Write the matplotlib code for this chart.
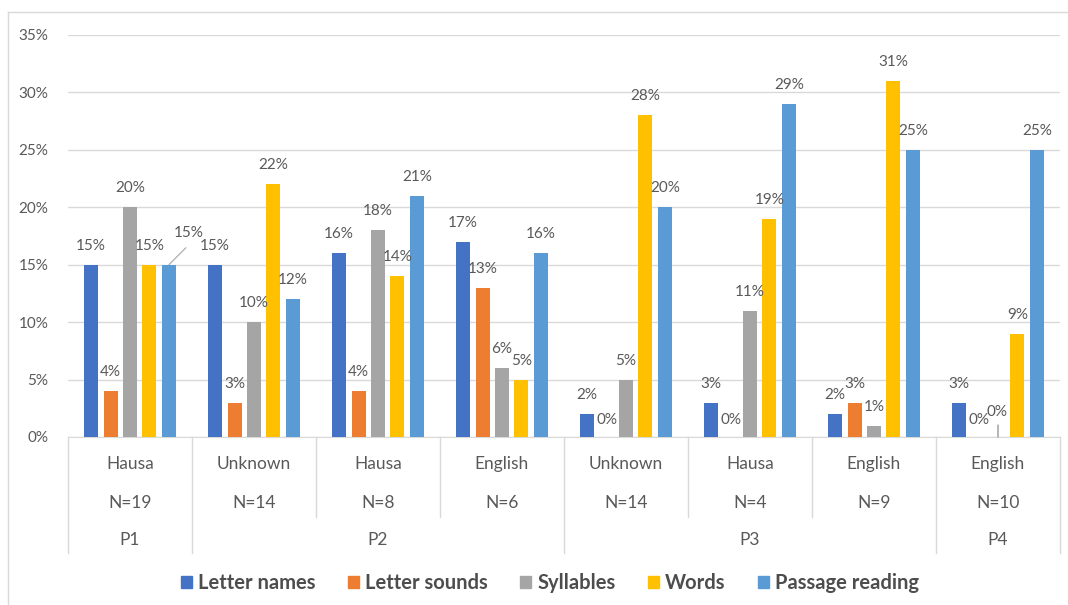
import matplotlib
matplotlib.use("Agg")
import matplotlib.pyplot as plt
import matplotlib.transforms as mtransforms
from matplotlib.patches import Rectangle
from matplotlib.lines import Line2D
import numpy as np

plt.rcParams['font.family'] = ['Lato', 'DejaVu Sans']

# ---- data ----
languages = ["Hausa", "Unknown", "Hausa", "English", "Unknown", "Hausa", "English", "English"]
sizes = ["N=19", "N=14", "N=8", "N=6", "N=14", "N=4", "N=9", "N=10"]
phases = ["P1", "P2", "P3", "P4"]
phase_spans = [(0, 0), (1, 3), (4, 6), (7, 7)]
series_names = ["Letter names", "Letter sounds", "Syllables", "Words", "Passage reading"]
letter_names = [15, 15, 16, 17, 2, 3, 2, 3]
letter_sounds = [4, 3, 4, 13, 0, 0, 3, 0]
syllables = [20, 10, 18, 6, 5, 11, 1, 0]
words = [15, 22, 14, 5, 28, 19, 31, 9]
passage_reading = [15, 12, 21, 16, 20, 29, 25, 25]
y_ticks = [0, 5, 10, 15, 20, 25, 30, 35]

series = [letter_names, letter_sounds, syllables, words, passage_reading]
colors = ["#4472C4", "#ED7D31", "#A5A5A5", "#FFC000", "#5B9BD5"]
text_col = "#595959"
grid_col = "#D9D9D9"

W, H = 1068, 605
fig = plt.figure(figsize=(W / 100, H / 100), dpi=100)
fig.patch.set_facecolor("white")

# axes placement in pixels
x0, x1 = 68, 1060
ytop, ybot = 35, 437
ax = fig.add_axes([x0 / W, (H - ybot) / H, (x1 - x0) / W, (ybot - ytop) / H])
ax.set_xlim(-0.5, len(languages) - 0.5)
ax.set_ylim(0, 35)

n = len(series)
step = 0.157
bw = 0.113
x = np.arange(len(languages))
for i, (vals, c) in enumerate(zip(series, colors)):
    pos = x + (i - (n - 1) / 2) * step
    ax.bar(pos, vals, width=bw, color=c, zorder=3, label=series_names[i])
    for j, (p, v) in enumerate(zip(pos, vals)):
        dx, dy = 0, 19
        leader = False
        if i == 4 and j == 0:
            dx, dy, leader = 20, 32, True
        if i == 2 and j == 7:
            dx, dy, leader = -1, 25, True
        if v == 0 and not leader:
            dy = 17
        ax.annotate(f"{v}%", xy=(p, v), xytext=(dx * 0.72, dy * 0.72),
                    textcoords="offset points", ha="center", va="center",
                    fontsize=11, color=text_col, zorder=4, annotation_clip=False)
        if leader:
            if i == 4:
                ax.annotate("", xy=(p, v), xycoords="data",
                            xytext=(17 * 0.72, 17 * 0.72), textcoords="offset points",
                            arrowprops=dict(arrowstyle="-", color="#A6A6A6", lw=0.8,
                                            shrinkA=0, shrinkB=0))
            else:
                ax.annotate("", xy=(p, v), xycoords="data",
                            xytext=(0, 12 * 0.72), textcoords="offset points",
                            arrowprops=dict(arrowstyle="-", color="#7F7F7F", lw=0.8,
                                            shrinkA=0, shrinkB=0))

ax.set_yticks(y_ticks)
ax.set_yticklabels([f"{t}%" for t in y_ticks], fontsize=11, color=text_col)
ax.tick_params(axis="y", length=0, pad=14)
ax.tick_params(axis="x", length=0, labelbottom=False)
ax.grid(axis="y", color=grid_col, lw=1, zorder=0)
for s in ["top", "right", "left"]:
    ax.spines[s].set_visible(False)
ax.spines["bottom"].set_color(grid_col)
ax.spines["bottom"].set_zorder(2)

# category table below axes
ph = ybot - ytop
def ay(ypix):
    return (ybot - ypix) / ph

blend = mtransforms.blended_transform_factory(ax.transData, ax.transAxes)
full_bounds = [-0.5, 0.5, 3.5, 6.5, 7.5]
for b in np.arange(-0.5, len(languages), 1.0):
    yend = 553 if b in full_bounds else 517
    ax.add_line(Line2D([b, b], [0, ay(yend)], transform=blend, color=grid_col,
                       lw=1, clip_on=False))
for j in range(len(languages)):
    ax.text(j, ay(464), languages[j], transform=blend, ha="center", va="center",
            fontsize=12.5, color=text_col)
    ax.text(j, ay(503), sizes[j], transform=blend, ha="center", va="center",
            fontsize=12.5, color=text_col)
for name, (a, b) in zip(phases, phase_spans):
    ax.text((a + b) / 2, ay(540), name, transform=blend, ha="center", va="center",
            fontsize=12.5, color=text_col)

# legend
handles = [Rectangle((0, 0), 1, 1, color=c) for c in colors]
fig.legend(handles, series_names, loc="center", bbox_to_anchor=(550 / W, (H - 583) / H),
           ncol=5, frameon=False, handlelength=0.55, handleheight=0.55,
           handletextpad=0.3, columnspacing=1.6,
           prop={"size": 14.5, "weight": "bold"}, labelcolor="#4d4d4d")

# outer border (top & left visible)
fig.add_artist(Line2D([8 / W, 8 / W], [0, (H - 12) / H], transform=fig.transFigure,
                      color=grid_col, lw=1))
fig.add_artist(Line2D([8 / W, 1], [(H - 12) / H, (H - 12) / H], transform=fig.transFigure,
                      color=grid_col, lw=1))

fig.savefig("out.png", dpi=100)
